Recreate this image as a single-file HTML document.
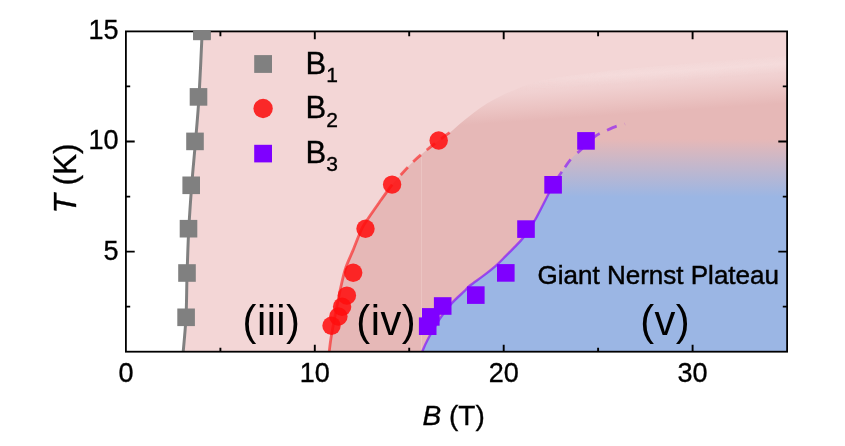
<!DOCTYPE html>
<html lang="en"><head><meta charset="utf-8"><title>Phase diagram</title>
<style>html,body{margin:0;padding:0;background:#fff}body{width:845px;height:446px;overflow:hidden}svg{display:block}text{font-family:"Liberation Sans",Arial,sans-serif;fill:#000;stroke:#000;stroke-width:0.35px}</style></head><body>
<svg width="845" height="446" viewBox="0 0 845 446">
<defs>
<clipPath id="frame"><rect x="125.9" y="31.4" width="661.2" height="320.3"/></clipPath>
<linearGradient id="gpink" gradientUnits="userSpaceOnUse" x1="600" y1="76.7" x2="602.65" y2="115.7"><stop offset="0" stop-color="#F3D6D6"/><stop offset="0.3" stop-color="#F0D0D0"/><stop offset="0.7" stop-color="#EBC3C2"/><stop offset="1" stop-color="#E6B8B7"/></linearGradient>
<linearGradient id="glight" gradientUnits="userSpaceOnUse" x1="600" y1="66" x2="601.35" y2="86"><stop offset="0" stop-color="#F8E6E6" stop-opacity="0"/><stop offset="0.5" stop-color="#F8E6E6" stop-opacity="0.34"/><stop offset="1" stop-color="#F8E6E6" stop-opacity="0"/></linearGradient>
<linearGradient id="gblue" gradientUnits="userSpaceOnUse" x1="0" y1="139" x2="0" y2="197"><stop offset="0" stop-color="#9BB6E4" stop-opacity="0"/><stop offset="1" stop-color="#9BB6E4" stop-opacity="1"/></linearGradient>
<linearGradient id="gfade" gradientUnits="userSpaceOnUse" x1="515" y1="0" x2="610" y2="0"><stop offset="0" stop-color="#000"/><stop offset="1" stop-color="#fff"/></linearGradient>
<mask id="mfade" maskUnits="userSpaceOnUse" x="0" y="0" width="845" height="446"><rect width="845" height="446" fill="url(#gfade)"/></mask>
</defs>
<rect width="845" height="446" fill="#fff"/>
<g clip-path="url(#frame)">
<path d="M184.2 351.7C184.7 346.0 186.3 330.4 187.0 317.3C187.7 304.2 187.6 287.8 188.1 273.0C188.6 258.2 189.0 243.3 189.8 228.7C190.6 214.1 191.6 199.9 192.7 185.3C193.8 170.8 195.3 156.1 196.5 141.4C197.7 126.7 198.9 115.2 200.0 96.9C201.1 78.6 202.7 42.3 203.2 31.4L787.1 31.4L787.1 351.7Z" fill="#F3D6D6"/>
<path d="M329.2 351.7C329.5 349.2 330.1 343.5 331.2 336.7C332.3 329.9 334.4 319.0 336.0 311.0C337.6 303.0 338.9 295.6 340.5 288.5C342.1 281.4 343.4 274.9 345.5 268.5C347.6 262.1 350.2 257.1 353.0 250.4C355.8 243.7 359.2 234.1 362.1 228.2C365.0 222.3 367.4 219.8 370.5 215.1C373.6 210.4 377.4 205.1 381.0 200.0C384.6 194.9 386.6 191.1 392.1 184.6C397.6 178.1 406.2 168.3 414.0 161.0C421.8 153.7 432.6 145.3 438.7 140.5C444.8 135.7 447.1 134.8 450.6 132.0C454.2 129.2 456.2 127.0 460.0 123.8C463.8 120.6 468.9 116.4 473.4 113.0C477.9 109.6 482.4 106.4 486.9 103.6C491.4 100.8 495.8 98.4 500.3 96.2C504.8 94.0 509.3 92.1 513.8 90.2C518.3 88.3 522.8 86.4 527.2 84.8C531.6 83.2 534.5 82.1 540.0 80.8C545.5 79.5 546.7 78.9 560.0 77.0C573.3 75.1 601.7 71.6 620.0 69.6C638.3 67.6 651.7 66.6 670.0 65.0C688.3 63.4 710.5 61.6 730.0 60.0C749.5 58.4 777.6 56.2 787.1 55.5L787.1 351.7Z" fill="url(#gpink)"/>
<path d="M329.2 351.7C329.5 349.2 330.1 343.5 331.2 336.7C332.3 329.9 334.4 319.0 336.0 311.0C337.6 303.0 338.9 295.6 340.5 288.5C342.1 281.4 343.4 274.9 345.5 268.5C347.6 262.1 350.2 257.1 353.0 250.4C355.8 243.7 359.2 234.1 362.1 228.2C365.0 222.3 367.4 219.8 370.5 215.1C373.6 210.4 377.4 205.1 381.0 200.0C384.6 194.9 386.6 191.1 392.1 184.6C397.6 178.1 406.2 168.3 414.0 161.0C421.8 153.7 432.6 145.3 438.7 140.5C444.8 135.7 447.1 134.8 450.6 132.0C454.2 129.2 456.2 127.0 460.0 123.8C463.8 120.6 468.9 116.4 473.4 113.0C477.9 109.6 482.4 106.4 486.9 103.6C491.4 100.8 495.8 98.4 500.3 96.2C504.8 94.0 509.3 92.1 513.8 90.2C518.3 88.3 522.8 86.4 527.2 84.8C531.6 83.2 534.5 82.1 540.0 80.8C545.5 79.5 546.7 78.9 560.0 77.0C573.3 75.1 601.7 71.6 620.0 69.6C638.3 67.6 651.7 66.6 670.0 65.0C688.3 63.4 710.5 61.6 730.0 60.0C749.5 58.4 777.6 56.2 787.1 55.5L787.1 351.7Z" fill="url(#glight)" mask="url(#mfade)"/>
<path d="M422.2 351.7C423.1 349.6 425.0 344.6 427.9 339.2C430.8 333.8 435.7 324.9 439.6 319.0C443.6 313.1 447.6 308.1 451.6 303.5C455.6 298.9 460.7 294.7 463.8 291.7C466.9 288.7 466.7 288.2 470.0 285.5C473.3 282.8 479.0 279.1 483.5 275.6C488.0 272.2 493.2 268.1 496.9 264.8C500.6 261.5 502.9 258.9 505.9 255.9C508.9 252.9 511.8 250.1 514.8 246.9C517.8 243.8 520.4 241.5 523.8 237.0C527.2 232.5 530.1 228.7 535.0 220.0C539.9 211.3 548.7 192.8 553.0 185.0C557.3 177.2 558.0 177.3 561.0 173.0C564.0 168.7 567.7 162.9 571.0 159.0C574.3 155.1 577.0 153.5 581.0 149.7C585.0 145.9 592.7 138.6 595.0 136.4L595.0 120.0L787.1 120.0L787.1 351.7Z" fill="url(#gblue)"/>
<path d="M421.5 157V352" stroke="#F0D0CE" stroke-opacity="0.5" stroke-width="1" fill="none"/>
<path d="M183.2 351.7C183.7 346.0 185.3 330.4 186.0 317.3C186.7 304.2 186.6 287.8 187.1 273.0C187.6 258.2 188.0 243.3 188.8 228.7C189.6 214.1 190.6 199.9 191.7 185.3C192.8 170.8 194.3 156.1 195.5 141.4C196.7 126.7 197.9 115.2 199.0 96.9C200.1 78.6 201.7 42.3 202.2 31.4" fill="none" stroke="#808080" stroke-width="3"/>
<path d="M329.2 351.7C329.5 349.2 330.1 343.5 331.2 336.7C332.3 329.9 334.4 319.0 336.0 311.0C337.6 303.0 338.9 295.6 340.5 288.5C342.1 281.4 343.4 274.9 345.5 268.5C347.6 262.1 350.2 257.1 353.0 250.4C355.8 243.7 359.2 234.1 362.1 228.2C365.0 222.3 367.4 219.8 370.5 215.1C373.6 210.4 377.4 205.1 381.0 200.0C384.6 194.9 390.2 187.2 392.1 184.6" fill="none" stroke="#FA1414" stroke-opacity="0.6" stroke-width="2.8"/>
<path d="M392.1 184.6C395.8 180.7 406.2 168.3 414.0 161.0C421.8 153.7 432.6 145.3 438.7 140.5C444.8 135.7 448.6 133.4 450.6 132.0" fill="none" stroke="#FA1414" stroke-opacity="0.6" stroke-width="2.8" stroke-dasharray="0 13 10.5 7.5 10.5 7.5 10.5 7.5 10.5 7.5 8 100"/>
<path d="M422.2 351.7C423.1 349.6 425.0 344.6 427.9 339.2C430.8 333.8 435.7 324.9 439.6 319.0C443.6 313.1 447.6 308.1 451.6 303.5C455.6 298.9 460.7 294.7 463.8 291.7C466.9 288.7 466.7 288.2 470.0 285.5C473.3 282.8 479.0 279.1 483.5 275.6C488.0 272.2 493.2 268.1 496.9 264.8C500.6 261.5 502.9 258.9 505.9 255.9C508.9 252.9 511.8 250.1 514.8 246.9C517.8 243.8 520.4 241.5 523.8 237.0C527.2 232.5 530.1 228.7 535.0 220.0C539.9 211.3 550.0 190.8 553.0 185.0" fill="none" stroke="#7F00FF" stroke-opacity="0.62" stroke-width="2.4"/>
<path d="M553.0 185.0C554.3 183.0 558.0 177.3 561.0 173.0C564.0 168.7 567.7 162.9 571.0 159.0C574.3 155.1 577.0 153.5 581.0 149.7C585.0 145.9 590.7 139.7 595.0 136.4C599.3 133.2 603.3 131.9 607.0 130.2C610.7 128.5 614.0 127.0 617.0 126.0C620.0 125.0 623.7 124.3 625.0 124.0" fill="none" stroke="#7F00FF" stroke-opacity="0.58" stroke-width="2.7" stroke-dasharray="16 5.5 9.5 9.7 29.3 8.2 10.4 8.3 3 100"/>
<rect x="193.1" y="22.6" width="17.6" height="17.6" fill="#808080"/>
<rect x="189.7" y="88.1" width="17.6" height="17.6" fill="#808080"/>
<rect x="186.2" y="132.6" width="17.6" height="17.6" fill="#808080"/>
<rect x="182.4" y="176.5" width="17.6" height="17.6" fill="#808080"/>
<rect x="179.7" y="219.9" width="17.6" height="17.6" fill="#808080"/>
<rect x="178.2" y="264.2" width="17.6" height="17.6" fill="#808080"/>
<rect x="177.3" y="308.5" width="17.6" height="17.6" fill="#808080"/>
<circle cx="331.5" cy="325.8" r="9.2" fill="#FF0D0D" fill-opacity="0.86"/>
<circle cx="338.4" cy="316.5" r="9.2" fill="#FF0D0D" fill-opacity="0.86"/>
<circle cx="342.1" cy="306.7" r="9.2" fill="#FF0D0D" fill-opacity="0.86"/>
<circle cx="346.9" cy="295.6" r="9.2" fill="#FF0D0D" fill-opacity="0.86"/>
<circle cx="353.2" cy="272.8" r="9.2" fill="#FF0D0D" fill-opacity="0.86"/>
<circle cx="365.5" cy="228.8" r="9.2" fill="#FF0D0D" fill-opacity="0.86"/>
<circle cx="392.1" cy="184.6" r="9.2" fill="#FF0D0D" fill-opacity="0.86"/>
<circle cx="438.7" cy="140.5" r="9.2" fill="#FF0D0D" fill-opacity="0.86"/>
<rect x="418.9" y="317.4" width="17.6" height="17.6" fill="#7F00FF"/>
<rect x="422.0" y="308.1" width="17.6" height="17.6" fill="#7F00FF"/>
<rect x="433.9" y="297.2" width="17.6" height="17.6" fill="#7F00FF"/>
<rect x="467.0" y="286.3" width="17.6" height="17.6" fill="#7F00FF"/>
<rect x="497.0" y="264.1" width="17.6" height="17.6" fill="#7F00FF"/>
<rect x="517.2" y="220.3" width="17.6" height="17.6" fill="#7F00FF"/>
<rect x="544.3" y="176.0" width="17.6" height="17.6" fill="#7F00FF"/>
<rect x="577.2" y="132.1" width="17.6" height="17.6" fill="#7F00FF"/>
</g>
<rect x="254.2" y="55.1" width="17.8" height="17.8" fill="#808080"/>
<circle cx="263.1" cy="108.5" r="9.7" fill="#FA2828"/>
<rect x="254.2" y="144.8" width="17.8" height="17.6" fill="#7F00FF"/>
<text x="305.6" y="73.6" font-size="31">B<tspan dy="8.5" font-size="21">1</tspan></text>
<text x="305.6" y="118.3" font-size="31">B<tspan dy="8.5" font-size="21">2</tspan></text>
<text x="305.6" y="162.9" font-size="31">B<tspan dy="8.5" font-size="21">3</tspan></text>
<path d="M220.4 351.7v-3.9M220.4 31.4v4.8M314.8 351.7v-6.9M314.8 31.4v7.8M409.2 351.7v-3.9M409.2 31.4v4.8M503.7 351.7v-6.9M503.7 31.4v7.8M598.1 351.7v-3.9M598.1 31.4v4.8M692.6 351.7v-6.9M692.6 31.4v7.8M125.9 306.6h4.3M787.1 306.6h-4.3M125.9 251.6h8.8M787.1 251.6h-8.8M125.9 196.6h4.3M787.1 196.6h-4.3M125.9 141.5h8.8M787.1 141.5h-8.8M125.9 86.4h4.3M787.1 86.4h-4.3" stroke="#000" stroke-width="1.9" fill="none"/>
<rect x="125.9" y="31.4" width="661.2" height="320.3" fill="none" stroke="#000" stroke-width="1.8"/>
<rect x="193.1" y="30.3" width="17.7" height="9.3" fill="#808080"/>
<text x="125.9" y="382.3" font-size="27" text-anchor="middle">0</text>
<text x="314.8" y="382.3" font-size="27" text-anchor="middle">10</text>
<text x="503.7" y="382.3" font-size="27" text-anchor="middle">20</text>
<text x="692.6" y="382.3" font-size="27" text-anchor="middle">30</text>
<text x="118.5" y="259.5" font-size="27" text-anchor="end">5</text>
<text x="118.5" y="149.4" font-size="27" text-anchor="end">10</text>
<text x="118.5" y="39.3" font-size="27" text-anchor="end">15</text>
<text x="453.7" y="425.2" font-size="28" text-anchor="middle"><tspan font-style="italic">B</tspan> (T)</text>
<text transform="translate(76.3 178.5) rotate(-90)" font-size="31.6" text-anchor="middle"><tspan font-style="italic">T</tspan> (K)</text>
<text x="271.5" y="334.5" font-size="41.7" text-anchor="middle" letter-spacing="0.45" style="stroke-width:0">(iii)</text>
<text x="386.2" y="334.5" font-size="41.7" text-anchor="middle" letter-spacing="0.45" style="stroke-width:0">(iv)</text>
<text x="665.2" y="334.5" font-size="41.7" text-anchor="middle" letter-spacing="0.45" style="stroke-width:0">(v)</text>
<text x="658.3" y="283.7" font-size="26" text-anchor="middle" style="stroke-width:0.45px">Giant Nernst Plateau</text>
</svg></body></html>
